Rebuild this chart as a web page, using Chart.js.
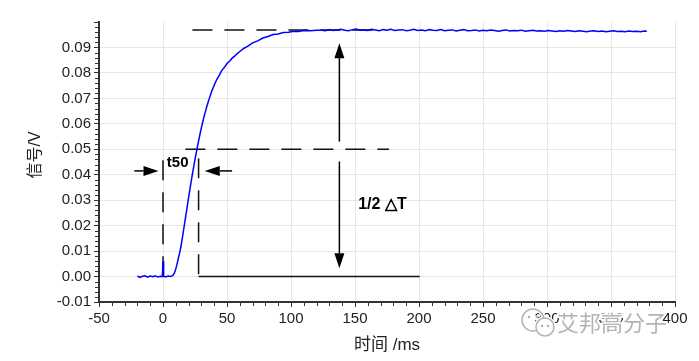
<!DOCTYPE html>
<html>
<head>
<meta charset="utf-8">
<script src="https://cdn.jsdelivr.net/npm/chart.js@4/dist/chart.umd.min.js"></script>
<style>
  html, body { margin: 0; padding: 0; background: #fff; }
  #wrap { width: 699px; height: 361px; position: relative; }
</style>
</head>
<body>
<div id="wrap"><canvas id="main_graphic"></canvas></div>
<script>
// time axis (ms) and measured signal (V)
const tempo = [
  -20, -18, -16, -14, -12, -10, -8, -6, -4, -2, -0.5, 0, 0.5, 2, 4, 6, 7,
  8, 9, 10, 11, 12, 13, 14, 15, 16, 17, 18, 19, 20, 21, 22, 23, 24, 25, 26, 27, 28, 29, 30,
  31, 32, 33, 34, 35, 36, 38, 40, 42, 44, 46, 48, 50, 52, 54, 56, 58, 60, 63, 66, 70, 74,
  78, 82, 86, 90, 94, 98, 102, 106, 110, 115, 120,
  124, 127, 130, 133, 136, 139, 142, 145, 148, 151, 154, 157, 160, 163, 166, 169, 172, 175,
  178, 181, 184, 187, 190, 193, 196, 199, 202, 205, 208, 211, 214, 217, 220, 223, 226, 229,
  232, 235, 238, 241, 244, 247, 250, 253, 256, 259, 262, 265, 268, 271, 274, 277, 280, 283,
  286, 289, 292, 295, 298, 301, 304, 307, 310, 313, 316, 319, 322, 325, 328, 331, 334, 337,
  340, 343, 346, 349, 352, 355, 358, 361, 364, 367, 370, 373, 376, 378
]
const sinal = [
  0.0002, -0.0003, 0.0001, 0.0003, -0.0002, 0.0002, -0.0001, 0.0003, -0.0002, 0.0001, 0.0000, 0.0060, 0.0001, -0.0002, 0.0002, 0.0000, 0.0003,
  0.0006, 0.0015, 0.0030, 0.0050, 0.0072, 0.0093, 0.0118, 0.0148, 0.0180, 0.0213, 0.0245, 0.0278, 0.0310, 0.0342, 0.0373, 0.0403, 0.0432, 0.0460, 0.0487, 0.0513, 0.0538, 0.0562, 0.0585,
  0.0606, 0.0627, 0.0646, 0.0664, 0.0681, 0.0697, 0.0727, 0.0752, 0.0774, 0.0791, 0.0810, 0.0822, 0.0837, 0.0846, 0.0858, 0.0866, 0.0876, 0.0884, 0.0896, 0.0904, 0.0918, 0.0926,
  0.0937, 0.0943, 0.0951, 0.0953, 0.0959, 0.0960, 0.0964, 0.0963, 0.0967, 0.0966, 0.0968,
  0.0968, 0.0966, 0.0970, 0.0967, 0.0969, 0.0971, 0.0968, 0.0966, 0.0970, 0.0972, 0.0968, 0.0969, 0.0967, 0.0971, 0.0969, 0.0966, 0.0970, 0.0968,
  0.0971, 0.0967, 0.0969, 0.0970, 0.0966, 0.0968, 0.0971, 0.0967, 0.0969, 0.0966, 0.0970, 0.0968, 0.0967, 0.0970, 0.0966, 0.0968, 0.0969, 0.0965,
  0.0968, 0.0970, 0.0966, 0.0967, 0.0969, 0.0965, 0.0968, 0.0966, 0.0969, 0.0967, 0.0964, 0.0967, 0.0969, 0.0965, 0.0967, 0.0966, 0.0968, 0.0964,
  0.0966, 0.0968, 0.0965, 0.0966, 0.0964, 0.0967, 0.0965, 0.0963, 0.0966, 0.0964, 0.0967, 0.0965, 0.0963, 0.0966, 0.0964, 0.0962, 0.0965, 0.0966,
  0.0963, 0.0965, 0.0962, 0.0964, 0.0966, 0.0963, 0.0964, 0.0962, 0.0965, 0.0963, 0.0964, 0.0962, 0.0965, 0.0964
]

// axis labels and annotation texts
const titulo_x = '时间 /ms'
const titulo_y = '信号/V'
const texto_t50 = 't50'
const texto_delta = '1/2 \u25B3T'
const marca_dagua = '艾邦高分子'

// reference levels used by the annotations (data units)
const nivel_final = 0.0969
const nivel_meio = 0.05
const t_inicio = 0
const t_50 = 27.8

const pontos = tempo.map((t, i) => ({x: t, y: sinal[i]}))

const eh_topo = (v) => Math.abs(v - 0.1) < 1e-9

const seta = (ctx, x1, y1, x2, y2) => {
  // line from (x1,y1) with a filled head at (x2,y2)
  const ang = Math.atan2(y2 - y1, x2 - x1)
  const comp = 15, meia = 5
  const bx = x2 - comp * Math.cos(ang), by = y2 - comp * Math.sin(ang)
  ctx.beginPath()
  ctx.moveTo(x1, y1)
  ctx.lineTo(bx, by)
  ctx.stroke()
  ctx.beginPath()
  ctx.moveTo(x2, y2)
  ctx.lineTo(bx + meia * Math.sin(ang), by - meia * Math.cos(ang))
  ctx.lineTo(bx - meia * Math.sin(ang), by + meia * Math.cos(ang))
  ctx.closePath()
  ctx.fill()
}

const tamanho_fixo = {
  id: 'tamanho_fixo'
}

const tracos_menores = {
  id: 'tracos_menores',
  afterDraw(chart) {
    const {ctx, scales: {x, y}, chartArea} = chart
    ctx.save()
    ctx.strokeStyle = '#333'
    ctx.lineWidth = 1
    for (let v = -50; v <= 400; v += 10) {
      if (v % 50 === 0) continue
      const px = Math.round(x.getPixelForValue(v)) + 0.5
      ctx.beginPath()
      ctx.moveTo(px, chartArea.bottom)
      ctx.lineTo(px, chartArea.bottom + 4)
      ctx.stroke()
    }
    for (let k = -5; k <= 50; k++) {
      if (k % 5 === 0) continue
      const py = Math.round(y.getPixelForValue(k * 0.002)) + 0.5
      ctx.beginPath()
      ctx.moveTo(chartArea.left, py)
      ctx.lineTo(chartArea.left - 4, py)
      ctx.stroke()
    }
    ctx.restore()
  }
}

const anotacoes = {
  id: 'anotacoes',
  beforeDatasetsDraw(chart) {
    const {ctx, scales: {x, y}} = chart
    const X = (v) => x.getPixelForValue(v)
    const Y = (v) => y.getPixelForValue(v)
    ctx.save()
    ctx.strokeStyle = '#111'
    ctx.lineWidth = 1.5
    ctx.setLineDash([20, 12])
    // top level
    ctx.beginPath(); ctx.moveTo(X(23), Y(nivel_final)); ctx.lineTo(X(172), Y(nivel_final)); ctx.stroke()
    // half level
    ctx.beginPath(); ctx.moveTo(X(17.5), Y(nivel_meio)); ctx.lineTo(X(176.5), Y(nivel_meio)); ctx.stroke()
    // vertical marks at start and t50
    ctx.beginPath(); ctx.moveTo(X(t_inicio), Y(0.0457)); ctx.lineTo(X(t_inicio), Y(0)); ctx.stroke()
    ctx.beginPath(); ctx.moveTo(X(t_50), Y(0.0465)); ctx.lineTo(X(t_50), Y(0)); ctx.stroke()
    ctx.setLineDash([])
    // base line
    ctx.beginPath(); ctx.moveTo(X(t_50), Y(0)); ctx.lineTo(X(200.5), Y(0)); ctx.stroke()
    ctx.restore()
  },
  afterDatasetsDraw(chart) {
    const {ctx, scales: {x, y}} = chart
    const X = (v) => x.getPixelForValue(v)
    const Y = (v) => y.getPixelForValue(v)
    ctx.save()
    ctx.strokeStyle = '#000'
    ctx.fillStyle = '#000'
    ctx.lineWidth = 1.5
    // 1/2 delta T arrows
    seta(ctx, X(137.8), Y(0.053), X(137.8), Y(0.0917))
    seta(ctx, X(137.8), Y(0.0452), X(137.8), Y(0.0033))
    // t50 arrows
    seta(ctx, X(-22.4), Y(0.0415), X(-3.5), Y(0.0415))
    seta(ctx, X(54), Y(0.0415), X(32.6), Y(0.0415))
    ctx.textBaseline = 'middle'
    ctx.textAlign = 'left'
    ctx.font = 'bold 15px "Liberation Sans", Arial, sans-serif'
    ctx.fillText(texto_t50, X(3), Y(0.0446))
    ctx.font = 'bold 16px "Liberation Sans", Arial, sans-serif'
    ctx.fillText(texto_delta, X(152.5), Y(0.0281))
    ctx.restore()
  }
}

const titulos = {
  id: 'titulos',
  afterDraw(chart) {
    const {ctx, chartArea} = chart
    ctx.save()
    ctx.fillStyle = '#222'
    ctx.textAlign = 'center'
    ctx.textBaseline = 'middle'
    ctx.font = '17px "Liberation Sans", "Noto Sans CJK SC", sans-serif'
    ctx.fillText(titulo_x, (chartArea.left + chartArea.right) / 2, 345)
    ctx.translate(36, 155)
    ctx.rotate(-Math.PI / 2)
    ctx.font = '16px "Liberation Sans", "Noto Sans CJK SC", sans-serif'
    ctx.fillText(titulo_y, 0, 0)
    ctx.restore()
    // watermark
    ctx.save()
    ctx.font = '22px "Noto Sans CJK SC", sans-serif'
    ctx.textBaseline = 'middle'
    ctx.textAlign = 'left'
    ctx.lineWidth = 3
    ctx.strokeStyle = '#fff'
    ctx.strokeText(marca_dagua, 557, 323)
    ctx.fillStyle = '#b4b4b4'
    ctx.fillText(marca_dagua, 557, 323)
    ctx.strokeStyle = '#fff'
    ctx.lineWidth = 4
    ctx.beginPath(); ctx.arc(533, 320, 11, 0, Math.PI * 2); ctx.stroke()
    ctx.beginPath(); ctx.arc(545, 327, 9, 0, Math.PI * 2); ctx.stroke()
    ctx.strokeStyle = '#b4b4b4'
    ctx.lineWidth = 1.5
    ctx.beginPath(); ctx.arc(533, 320, 11, 0, Math.PI * 2); ctx.stroke()
    ctx.fillStyle = '#fff'
    ctx.beginPath(); ctx.arc(545, 327, 9, 0, Math.PI * 2); ctx.fill(); ctx.stroke()
    ctx.fillStyle = '#b4b4b4'
    for (const [cx, cy] of [[529, 317], [537, 317], [542, 326], [548, 326]]) {
      ctx.beginPath(); ctx.arc(cx, cy, 1.3, 0, Math.PI * 2); ctx.fill()
    }
    ctx.restore()
  }
}

const fonte_ticks = {family: '"Liberation Sans", Arial, sans-serif', size: 15}

var data = {
  datasets: [{
    data: pontos,
    borderColor: '#0000ff',
    borderWidth: 1.5,
    pointRadius: 0,
    tension: 0,
    fill: false
  }]
}

var config = {
  type: 'line',
  data: data,
  options: {
    responsive: false,
    animation: false,
    events: [],
    layout: {padding: {left: 0, top: 22, right: 24, bottom: 0}},
    plugins: {legend: {display: false}, tooltip: {enabled: false}},
    scales: {
      x: {
        type: 'linear',
        min: -50,
        max: 400,
        afterFit: (s) => { s.height = 59 },
        ticks: {stepSize: 50, color: '#222', font: fonte_ticks, padding: 3, maxRotation: 0},
        grid: {color: '#e6e6e6', lineWidth: 1, tickColor: '#333', tickLength: 5},
        border: {display: true, color: '#333', width: 2}
      },
      y: {
        min: -0.01,
        max: 0.1,
        afterFit: (s) => { s.width = 99 },
        ticks: {
          stepSize: 0.01,
          color: '#222',
          font: fonte_ticks,
          padding: 3,
          callback: (v) => eh_topo(v) ? '' : (Math.round(v * 100) / 100).toFixed(2)
        },
        grid: {
          color: (c) => (c.tick && eh_topo(c.tick.value)) ? 'rgba(0,0,0,0)' : '#e6e6e6',
          lineWidth: 1,
          tickColor: '#333',
          tickLength: 5
        },
        border: {display: true, color: '#333', width: 2}
      }
    }
  },
  plugins: [anotacoes, tracos_menores, titulos]
}

const canvas = document.getElementById('main_graphic')
canvas.width = 699
canvas.height = 361
var myChart = new Chart(canvas, config)
</script>
</body>
</html>
